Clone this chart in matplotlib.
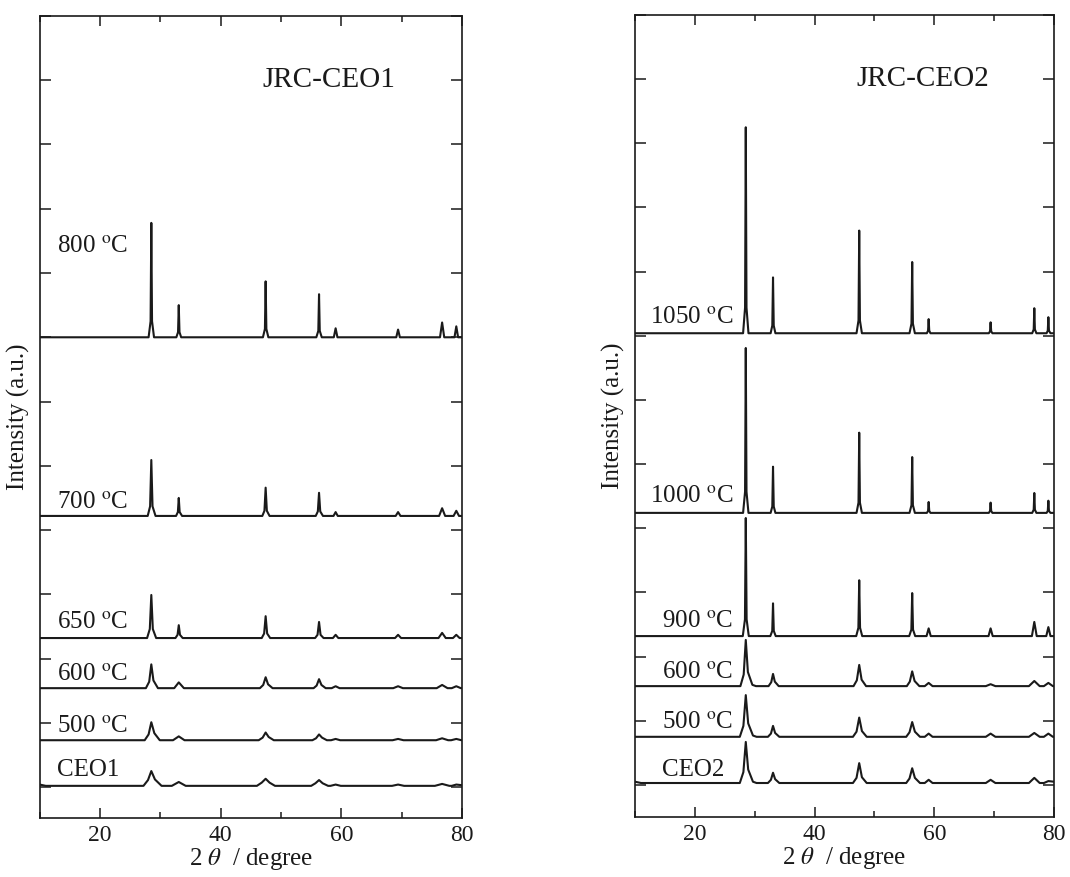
import numpy as np
import matplotlib
matplotlib.use("Agg")
import matplotlib.pyplot as plt
from matplotlib.ticker import MultipleLocator, NullFormatter

plt.rcParams['font.family'] = ['Liberation Serif', 'DejaVu Serif']
plt.rcParams['mathtext.fontset'] = 'stix'

# ---- JRC-CEO1 patterns: (2theta, intensity above own baseline)
l800 = [(10,0),(28.05,0),(28.38,0.25),(28.5,1.78),(28.62,0.25),(28.95,0),
        (32.65,0),(32.93,0.08),(33.05,0.50),(33.17,0.08),(33.45,0),
        (47.0,0),(47.33,0.13),(47.45,0.87),(47.57,0.13),(47.9,0),
        (55.85,0),(56.18,0.10),(56.3,0.67),(56.42,0.10),(56.75,0),
        (58.75,0),(59.05,0.14),(59.35,0),
        (69.1,0),(69.4,0.12),(69.7,0),
        (76.35,0),(76.7,0.23),(77.05,0),
        (78.75,0),(79.05,0.17),(79.35,0),(80,0)]
l700 = [(10,0),(27.9,0),(28.3,0.15),(28.5,0.87),(28.7,0.15),(29.2,0),
        (32.6,0),(32.9,0.06),(33.05,0.28),(33.2,0.06),(33.6,0),
        (46.9,0),(47.25,0.08),(47.45,0.44),(47.65,0.08),(48.1,0),
        (55.75,0),(56.1,0.07),(56.3,0.36),(56.5,0.07),(56.95,0),
        (58.7,0),(59.05,0.06),(59.4,0),
        (69.0,0),(69.4,0.06),(69.8,0),
        (76.2,0),(76.7,0.12),(77.2,0),
        (78.6,0),(79.05,0.08),(79.5,0),(80,0)]
l650 = [(10,0),(27.8,0),(28.25,0.14),(28.5,0.67),(28.75,0.14),(29.3,0),
        (32.5,0),(32.85,0.05),(33.05,0.20),(33.25,0.05),(33.7,0),
        (46.8,0),(47.2,0.07),(47.45,0.34),(47.7,0.07),(48.2,0),
        (55.65,0),(56.05,0.05),(56.3,0.25),(56.55,0.05),(57.05,0),
        (58.6,0),(59.05,0.05),(59.5,0),
        (68.9,0),(69.4,0.05),(69.9,0),
        (76.1,0),(76.7,0.08),(77.3,0),
        (78.5,0),(79.05,0.05),(79.6,0),(80,0)]
l600 = [(10,0),(27.6,0),(28.15,0.10),(28.5,0.37),(28.85,0.12),(29.6,0),
        (32.3,0),(33.05,0.09),(33.9,0),
        (46.5,0),(47.05,0.05),(47.45,0.17),(47.85,0.06),(48.6,0),
        (55.4,0),(55.9,0.04),(56.3,0.14),(56.7,0.05),(57.4,0),
        (58.4,0),(59.05,0.03),(59.7,0),
        (68.6,0),(69.4,0.03),(70.2,0),
        (75.8,0),(76.7,0.05),(77.6,0),
        (78.3,0),(79.05,0.03),(79.8,0),(80,0)]
l500 = [(10,0),(27.4,0),(28.05,0.09),(28.5,0.28),(29.0,0.11),(29.9,0),
        (32.1,0),(33.05,0.06),(34.0,0),
        (46.3,0),(46.95,0.04),(47.45,0.12),(47.95,0.05),(48.8,0),
        (55.2,0),(55.8,0.03),(56.3,0.09),(56.8,0.04),(57.6,0),
        (58.3,0),(59.05,0.02),(59.8,0),
        (68.5,0),(69.4,0.02),(70.3,0),
        (75.7,0),(76.7,0.03),(77.7,0),
        (78.2,0),(79.05,0.02),(79.9,0),(80,0)]
lceo1 = [(10,0.02),(11,0),(27.2,0),(27.95,0.09),(28.5,0.23),(29.1,0.10),(30.2,0),
         (31.9,0),(33.05,0.06),(34.2,0),
         (46.0,0),(46.8,0.05),(47.45,0.11),(48.1,0.05),(49.0,0),
         (55.0,0),(55.7,0.04),(56.3,0.09),(56.9,0.04),(57.8,0),
         (58.2,0),(59.05,0.02),(59.9,0),
         (68.4,0),(69.4,0.02),(70.4,0),
         (75.5,0),(76.7,0.03),(77.9,0),
         (78.3,0),(79.05,0.02),(80,0.01)]

# ---- JRC-CEO2 patterns
r1050 = [(10,0),(28.05,0),(28.38,0.40),(28.5,3.21),(28.62,0.40),(28.95,0),
         (32.65,0),(32.93,0.12),(33.05,0.87),(33.17,0.12),(33.45,0),
         (47.0,0),(47.33,0.20),(47.45,1.60),(47.57,0.20),(47.9,0),
         (55.85,0),(56.18,0.15),(56.3,1.11),(56.42,0.15),(56.75,0),
         (58.75,0),(58.95,0.04),(59.05,0.22),(59.15,0.04),(59.35,0),
         (69.1,0),(69.3,0.03),(69.4,0.17),(69.5,0.03),(69.7,0),
         (76.35,0),(76.6,0.06),(76.7,0.39),(76.8,0.06),(77.05,0),
         (78.75,0),(78.95,0.04),(79.05,0.25),(79.15,0.04),(79.4,0),(80,0)]
r1000 = [(10,0),(28.05,0),(28.38,0.33),(28.5,2.57),(28.62,0.33),(28.95,0),
         (32.65,0),(32.93,0.10),(33.05,0.72),(33.17,0.10),(33.45,0),
         (47.0,0),(47.33,0.16),(47.45,1.25),(47.57,0.16),(47.9,0),
         (55.85,0),(56.18,0.12),(56.3,0.87),(56.42,0.12),(56.75,0),
         (58.75,0),(58.95,0.03),(59.05,0.17),(59.15,0.03),(59.35,0),
         (69.1,0),(69.3,0.03),(69.4,0.16),(69.5,0.03),(69.7,0),
         (76.35,0),(76.6,0.05),(76.7,0.31),(76.8,0.05),(77.05,0),
         (78.75,0),(78.95,0.03),(79.05,0.19),(79.15,0.03),(79.4,0),(80,0)]
r900 = [(10,0),(28.0,0),(28.36,0.26),(28.5,1.84),(28.64,0.26),(29.0,0),
        (32.6,0),(32.92,0.08),(33.05,0.51),(33.18,0.08),(33.5,0),
        (46.95,0),(47.31,0.13),(47.45,0.87),(47.59,0.13),(47.95,0),
        (55.8,0),(56.16,0.10),(56.3,0.67),(56.44,0.10),(56.8,0),
        (58.7,0),(59.05,0.12),(59.4,0),
        (69.05,0),(69.4,0.12),(69.75,0),
        (76.3,0),(76.7,0.22),(77.1,0),
        (78.7,0),(79.05,0.14),(79.4,0),(80,0)]
r600 = [(10,0),(27.6,0),(28.15,0.18),(28.5,0.72),(28.85,0.22),(29.6,0.02),(30.2,0),
        (32.3,0),(32.75,0.06),(33.05,0.19),(33.35,0.07),(34.0,0),
        (46.5,0),(47.05,0.09),(47.45,0.33),(47.85,0.10),(48.6,0),
        (55.4,0),(55.9,0.07),(56.3,0.23),(56.7,0.08),(57.5,0),
        (58.4,0),(59.05,0.05),(59.7,0),
        (68.6,0),(69.4,0.03),(70.2,0),
        (75.8,0),(76.7,0.08),(77.6,0),
        (78.3,0),(79.05,0.05),(79.8,0),(80,0)]
r500 = [(10,0),(27.5,0),(28.1,0.17),(28.5,0.65),(28.9,0.21),(29.7,0.02),(30.3,0),
        (32.2,0),(32.7,0.05),(33.05,0.17),(33.4,0.06),(34.1,0),
        (46.4,0),(47.0,0.08),(47.45,0.30),(47.9,0.09),(48.7,0),
        (55.3,0),(55.85,0.07),(56.3,0.23),(56.75,0.08),(57.6,0),
        (58.4,0),(59.05,0.05),(59.7,0),
        (68.6,0),(69.4,0.05),(70.2,0),
        (75.8,0),(76.7,0.06),(77.6,0),
        (78.3,0),(79.05,0.05),(79.8,0),(80,0)]
rceo2 = [(10,0.02),(11,0),(27.5,0),(28.1,0.17),(28.5,0.64),(28.9,0.21),(29.7,0.02),(30.3,0),
         (32.2,0),(32.7,0.05),(33.05,0.16),(33.4,0.06),(34.1,0),
         (46.4,0),(47.0,0.08),(47.45,0.31),(47.9,0.09),(48.7,0),
         (55.3,0),(55.85,0.07),(56.3,0.23),(56.75,0.08),(57.6,0),
         (58.4,0),(59.05,0.05),(59.7,0),
         (68.6,0),(69.4,0.05),(70.2,0),
         (75.8,0),(76.7,0.08),(77.6,0),
         (78.3,0),(79.05,0.03),(80,0.02)]

left_patterns = [l800, l700, l650, l600, l500, lceo1]
left_offsets = [7.0, 4.22, 2.32, 1.54, 0.73, 0.02]
left_labels = ['800 $^{\\rm o}$C', '700 $^{\\rm o}$C', '650 $^{\\rm o}$C',
               '600 $^{\\rm o}$C', '500 $^{\\rm o}$C', 'CEO1']
right_patterns = [r1050, r1000, r900, r600, r500, rceo2]
right_offsets = [7.04, 4.24, 2.32, 1.54, 0.75, 0.03]
right_labels = ['1050 $^{\\rm o}$C', '1000 $^{\\rm o}$C', '900 $^{\\rm o}$C',
                '600 $^{\\rm o}$C', '500 $^{\\rm o}$C', 'CEO2']

# label anchor positions (x, y) in data coords
left_lab_x = [12.9] * 6
left_lab_y = [8.40, 4.42, 2.55, 1.74, 0.93, 0.26]
right_lab_x = [12.5, 12.5, 14.5, 14.5, 14.5, 14.5]
right_lab_y = [7.27, 4.49, 2.54, 1.74, 0.97, 0.23]

ink = '#1a1a1a'
fig = plt.figure(figsize=(10.7, 8.77), dpi=100)
ax1 = fig.add_axes([0.0371, 0.0673, 0.3947, 0.9145])
ax2 = fig.add_axes([0.5935, 0.0684, 0.3916, 0.9145])

panels = [(ax1, left_patterns, left_offsets, left_labels, left_lab_x, left_lab_y, 'JRC-CEO1', (-0.48, 12.0)),
          (ax2, right_patterns, right_offsets, right_labels, right_lab_x, right_lab_y, 'JRC-CEO2', (-0.50, 12.0))]

for ax, pats, offs, labs, lx, ly, title, ylim in panels:
    for p, o in zip(pats, offs):
        xy = np.array(p)
        ax.plot(xy[:, 0], xy[:, 1] + o, color=ink, lw=1.5, solid_joinstyle='round')
    for t, x, y in zip(labs, lx, ly):
        ax.text(x, y, t, fontsize=18, color=ink, va='center', ha='left')
    ax.text(47.0, 11.0, title, fontsize=21, color=ink, va='center', ha='left')
    ax.set_xlim(10, 80)
    ax.set_ylim(*ylim)
    ax.xaxis.set_major_locator(MultipleLocator(20))
    ax.xaxis.set_minor_locator(MultipleLocator(10))
    ax.yaxis.set_major_locator(MultipleLocator(1))
    ax.yaxis.set_major_formatter(NullFormatter())
    ax.tick_params(which='both', direction='in', top=True, right=True, color=ink, width=1.1)
    ax.tick_params(which='major', length=7, labelsize=17, pad=5, labelcolor=ink)
    ax.tick_params(which='minor', length=4)
    ax.tick_params(axis='y', which='major', length=8)
    for s in ax.spines.values():
        s.set_linewidth(1.2)
        s.set_color(ink)
    ax.set_xlabel('2 $\\theta$  / degree', fontsize=18, color=ink, labelpad=0)
    ax.set_ylabel('Intensity (a.u.)', fontsize=18, color=ink, labelpad=2)

fig.savefig('out.png', dpi=100)
